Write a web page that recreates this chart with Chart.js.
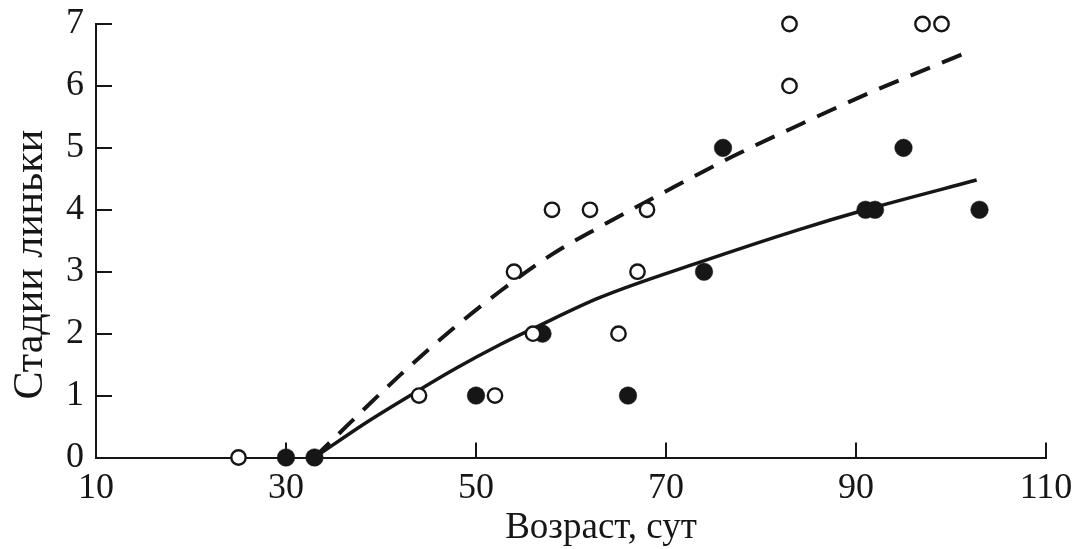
<!DOCTYPE html>
<html>
<head>
<meta charset="utf-8">
<script src="https://cdn.jsdelivr.net/npm/chart.js@4"></script>
<style>
  html, body { margin: 0; padding: 0; background: #fff; }
  #wrap { width: 1079px; height: 549px; }
</style>
</head>
<body>
<div id="wrap"><canvas id="c" width="1079" height="549"></canvas></div>
<script>
// Open circles (age, stage)
const openX = [25, 44, 52, 54, 56, 58, 62, 65, 67, 68, 83, 83, 97, 99];
const openY = [0, 1, 1, 3, 2, 4, 4, 2, 3, 4, 6, 7, 7, 7];
// Filled circles (age, stage)
const filledX = [30, 33, 50, 57, 66, 74, 76, 91, 92, 95, 103];
const filledY = [0, 0, 1, 2, 1, 3, 5, 4, 4, 5, 4];
// Solid fitted curve
const solidX = [33, 38.5, 43.7, 47.9, 52.5, 56, 63, 73.5, 84, 91, 102.7];
const solidY = [0, 0.57, 1.06, 1.44, 1.82, 2.08, 2.58, 3.15, 3.68, 4.0, 4.48];
// Dashed fitted curve
const dashX = [33, 35, 42, 47.5, 52.5, 58, 63, 70, 77, 84, 91, 98, 101.5];
const dashY = [0, 0.30, 1.33, 2.07, 2.68, 3.28, 3.72, 4.30, 4.86, 5.37, 5.86, 6.31, 6.53];
// Axis ticks
const xTicks = [10, 30, 50, 70, 90, 110];
const yTicks = [0, 1, 2, 3, 4, 5, 6, 7];
const xTitle = 'Возраст, сут';
const yTitle = 'Стадии линьки';

const ink = '#161616';
const serif = '"Liberation Serif", "Times New Roman", serif';
const pts = (xs, ys) => xs.map((x, i) => ({x: x, y: ys[i]}));

const innerTicks = {
  id: 'innerTicks',
  afterDatasetsDraw(chart) {
    const {ctx, scales: {x, y}} = chart;
    ctx.save();
    ctx.strokeStyle = ink;
    ctx.lineWidth = 2;
    ctx.beginPath();
    xTicks.forEach(v => {
      const px = Math.round(x.getPixelForValue(v));
      ctx.moveTo(px, y.bottom);
      ctx.lineTo(px, y.bottom - 15);
    });
    yTicks.forEach(v => {
      const py = Math.round(y.getPixelForValue(v));
      ctx.moveTo(x.left, py);
      ctx.lineTo(x.left + 16, py);
    });
    ctx.stroke();
    ctx.restore();
  }
};

const axisTitles = {
  id: 'axisTitles',
  afterDraw(chart) {
    const {ctx, scales: {x, y}} = chart;
    ctx.save();
    ctx.fillStyle = ink;
    ctx.textAlign = 'center';
    ctx.textBaseline = 'alphabetic';
    ctx.font = '37px ' + serif;
    ctx.fillText(xTitle, (x.left + x.right) / 2 + 30, 538);
    ctx.translate(42, (y.top + y.bottom) / 2 + 24);
    ctx.rotate(-Math.PI / 2);
    ctx.font = '42px ' + serif;
    ctx.fillText(yTitle, 0, 0);
    ctx.restore();
  }
};

const font = {family: serif, size: 36};

new Chart(document.getElementById('c'), {
  type: 'scatter',
  data: {
    datasets: [
      {
        label: 'open',
        data: pts(openX, openY),
        pointRadius: 7.2,
        pointHoverRadius: 7.2,
        pointBackgroundColor: '#fff',
        pointBorderColor: ink,
        pointBorderWidth: 2.4,
        clip: false,
        order: 0
      },
      {
        label: 'filled',
        data: pts(filledX, filledY),
        pointRadius: 8.8,
        pointHoverRadius: 8.8,
        pointBackgroundColor: ink,
        pointBorderColor: ink,
        pointBorderWidth: 0.5,
        clip: false,
        order: 1
      },
      {
        label: 'solid',
        type: 'line',
        data: pts(solidX, solidY),
        borderColor: ink,
        borderWidth: 3.5,
        pointRadius: 0,
        fill: false,
        cubicInterpolationMode: 'monotone',
        order: 2
      },
      {
        label: 'dashed',
        type: 'line',
        data: pts(dashX, dashY),
        borderColor: ink,
        borderWidth: 4,
        borderDash: [21, 13],
        pointRadius: 0,
        fill: false,
        cubicInterpolationMode: 'monotone',
        order: 3
      }
    ]
  },
  options: {
    responsive: false,
    animation: false,
    devicePixelRatio: 1,
    layout: {padding: {top: 24, right: 33, bottom: 0, left: 0}},
    plugins: {legend: {display: false}, tooltip: {enabled: false}},
    scales: {
      x: {
        type: 'linear',
        min: 10, max: 110,
        afterBuildTicks: s => { s.ticks = xTicks.map(v => ({value: v})); },
        afterFit: s => { s.height = 91.5; s.paddingLeft = 0; s.paddingRight = 0; },
        grid: {display: false, drawTicks: false},
        border: {display: true, color: ink, width: 2},
        ticks: {color: ink, font: font, padding: 9, maxRotation: 0, autoSkip: false},
        title: {display: false, text: xTitle}
      },
      y: {
        type: 'linear',
        min: 0, max: 7,
        afterBuildTicks: s => { s.ticks = yTicks.map(v => ({value: v})); },
        afterFit: s => { s.width = 96; s.paddingTop = 0; s.paddingBottom = 0; },
        grid: {display: false, drawTicks: false},
        border: {display: true, color: ink, width: 2},
        ticks: {color: ink, font: font, padding: 12, autoSkip: false},
        title: {display: false, text: yTitle}
      }
    }
  },
  plugins: [innerTicks, axisTitles]
});
</script>
</body>
</html>
